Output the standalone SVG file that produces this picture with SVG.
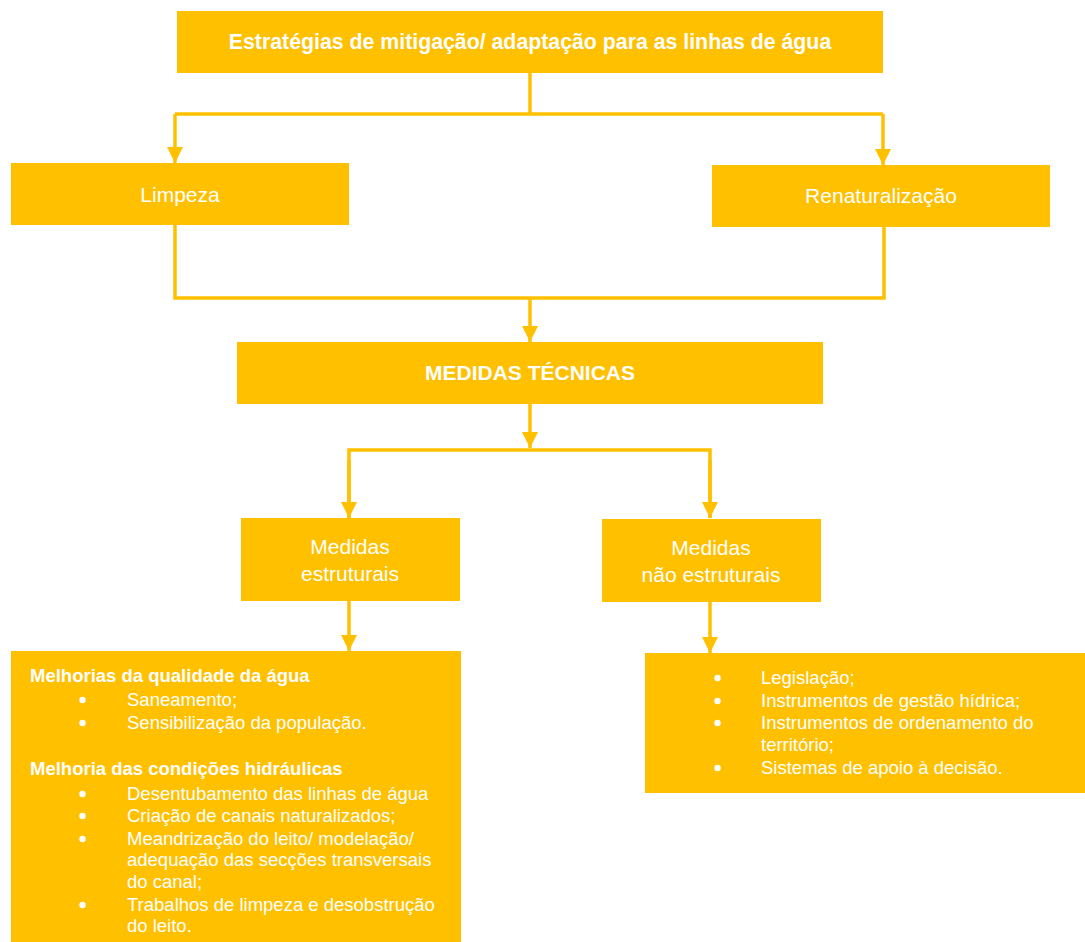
<svg xmlns="http://www.w3.org/2000/svg" width="1085" height="942" viewBox="0 0 1085 942">
<style>
.box{fill:#FFC000}
.t{fill:#FFFFFF;font-family:"Liberation Sans",Arial,sans-serif;font-size:21px}
.c{text-anchor:middle}
.b{font-weight:bold}
.s{fill:#FFFFFF;font-family:"Liberation Sans",Arial,sans-serif;font-size:18.5px}
.dot{fill:#FFFFFF}
.ln{fill:none;stroke:#FFC000;stroke-width:3.5}
</style>
<defs>
<marker id="arr" markerUnits="userSpaceOnUse" markerWidth="16" markerHeight="16" viewBox="0 0 14 14" refX="14" refY="7" orient="auto">
<path d="M0,0 L14,7 L0,14 Z" fill="#FFC000"/>
</marker>
</defs>
<rect width="1085" height="942" fill="#FFFFFF"/>
<g id="connectors">
<path class="ln" d="M530,73 V114"/>
<path class="ln" d="M175,114 H883"/>
<path class="ln" d="M175,114 V163" marker-end="url(#arr)"/>
<path class="ln" d="M883,114 V165" marker-end="url(#arr)"/>
<path class="ln" d="M175,225 V298 H884 V227"/>
<path class="ln" d="M530,298 V342" marker-end="url(#arr)"/>
<path class="ln" d="M530,404 V448" marker-end="url(#arr)"/>
<path class="ln" d="M349,518 V450 H710 V518"/>
<path class="ln" d="M349,460 V518" marker-end="url(#arr)"/>
<path class="ln" d="M710,460 V518" marker-end="url(#arr)"/>
<path class="ln" d="M349,601 V651" marker-end="url(#arr)"/>
<path class="ln" d="M710,602 V653" marker-end="url(#arr)"/>
</g>
<g id="n-title">
<rect class="box" x="177" y="11" width="706" height="62"/>
<text class="t b c" x="530" y="49" style="font-size:21.3px">Estratégias de mitigação/ adaptação para as linhas de água</text>
</g>
<g id="n-limpeza">
<rect class="box" x="11" y="163" width="338" height="62"/>
<text class="t c" x="180" y="202">Limpeza</text>
</g>
<g id="n-renat">
<rect class="box" x="712" y="165" width="338" height="62"/>
<text class="t c" x="881" y="203">Renaturalização</text>
</g>
<g id="n-medidas">
<rect class="box" x="237" y="342" width="586" height="62"/>
<text class="t b c" x="530" y="380">MEDIDAS TÉCNICAS</text>
</g>
<g id="n-estr">
<rect class="box" x="241" y="518" width="219" height="83"/>
<text class="t c" x="350" y="554">Medidas</text>
<text class="t c" x="350" y="581">estruturais</text>
</g>
<g id="n-nestr">
<rect class="box" x="602" y="519" width="219" height="83"/>
<text class="t c" x="711" y="555">Medidas</text>
<text class="t c" x="711" y="582">não estruturais</text>
</g>
<g id="n-estr-list">
<rect class="box" x="11" y="651" width="450" height="291"/>
<text class="s b" x="30" y="682">Melhorias da qualidade da água</text>
<circle class="dot" cx="82.5" cy="700" r="3.2"/><text class="s" x="127" y="706">Saneamento;</text>
<circle class="dot" cx="82.5" cy="723" r="3.2"/><text class="s" x="127" y="729">Sensibilização da população.</text>
<text class="s b" x="30" y="775">Melhoria das condições hidráulicas</text>
<circle class="dot" cx="82.5" cy="794" r="3.2"/><text class="s" x="127" y="800">Desentubamento das linhas de água</text>
<circle class="dot" cx="82.5" cy="816" r="3.2"/><text class="s" x="127" y="822">Criação de canais naturalizados;</text>
<circle class="dot" cx="82.5" cy="839" r="3.2"/><text class="s" x="127" y="845">Meandrização do leito/ modelação/</text>
<text class="s" x="127" y="866">adequação das secções transversais</text>
<text class="s" x="127" y="888">do canal;</text>
<circle class="dot" cx="82.5" cy="905" r="3.2"/><text class="s" x="127" y="911">Trabalhos de limpeza e desobstrução</text>
<text class="s" x="127" y="932">do leito.</text>
</g>
<g id="n-nestr-list">
<rect class="box" x="645" y="653" width="440" height="140"/>
<circle class="dot" cx="717.5" cy="678" r="3.2"/><text class="s" x="761" y="684">Legislação;</text>
<circle class="dot" cx="717.5" cy="701" r="3.2"/><text class="s" x="761" y="707">Instrumentos de gestão hídrica;</text>
<circle class="dot" cx="717.5" cy="723" r="3.2"/><text class="s" x="761" y="729">Instrumentos de ordenamento do</text>
<text class="s" x="761" y="751">território;</text>
<circle class="dot" cx="717.5" cy="768" r="3.2"/><text class="s" x="761" y="774">Sistemas de apoio à decisão.</text>
</g>
</svg>
